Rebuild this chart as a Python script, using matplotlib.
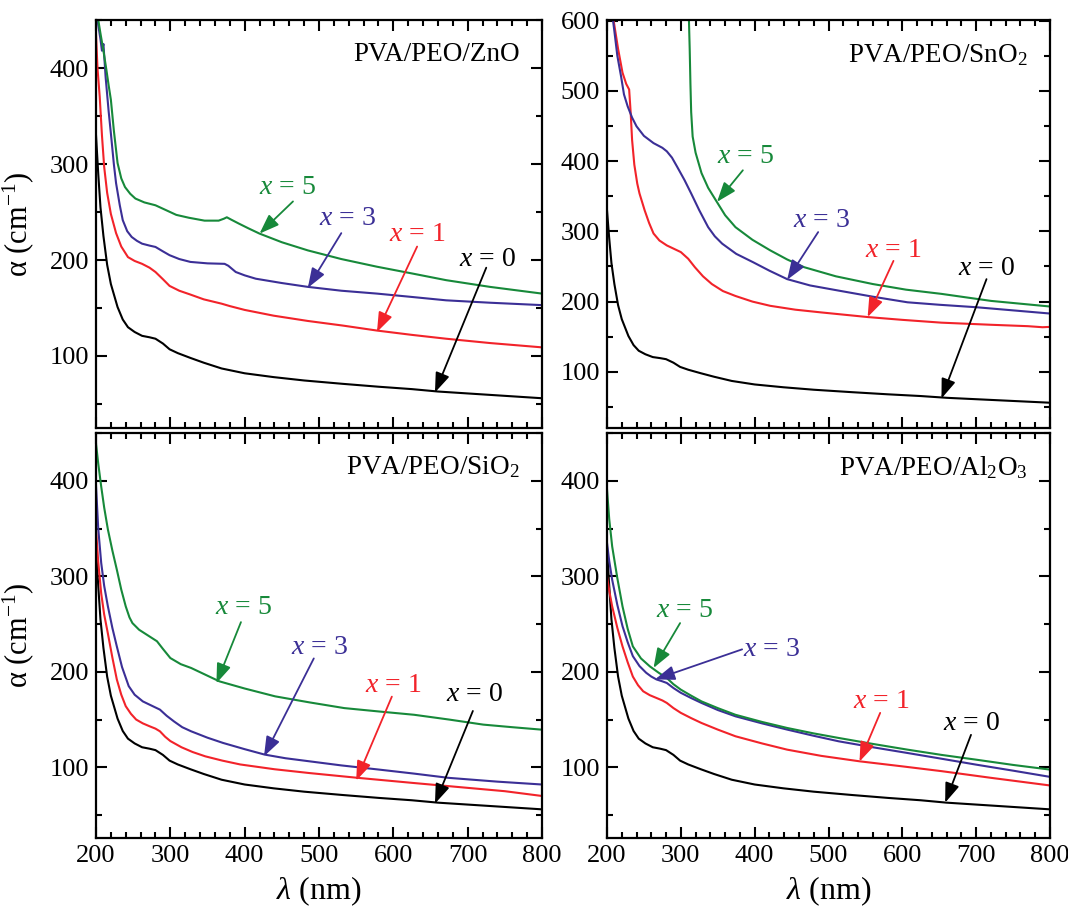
import matplotlib
matplotlib.use('Agg')
import matplotlib.pyplot as plt
from matplotlib.ticker import MultipleLocator

plt.rcParams['font.family'] = ['Liberation Serif', 'DejaVu Serif']
plt.rcParams['mathtext.fontset'] = 'custom'
plt.rcParams['mathtext.rm'] = 'Liberation Serif'
plt.rcParams['mathtext.it'] = 'Liberation Serif:italic'

# absorption coefficient curves (wavelength nm, alpha cm^-1)
# x = 0 (pure PVA/PEO) is the same sample in every panel
wl_x0 = [200, 203, 206, 210, 215, 220, 229, 236, 243, 252, 262, 272, 280, 290, 299,
         310, 327, 345, 369, 400, 439, 480, 532, 580, 625, 660, 700, 750, 800]
a_x0 = [330, 290, 255, 225, 195, 175, 151, 138, 130, 125, 121, 119.5, 118, 113, 107,
        103, 98, 93, 87, 82, 78, 74.5, 71, 68, 65.5, 63, 61, 58.5, 56]

# ZnO
zno_wl_x1 = [200, 202, 205, 208, 211, 215, 220, 227, 234, 243, 252, 262, 272, 280, 290,
             299, 312, 327, 345, 369, 380, 400, 439, 485, 532, 578, 625, 671, 730, 800]
zno_a_x1 = [435, 400, 370, 330, 297, 270, 248, 228, 214, 203, 199, 196, 192, 187.5, 180,
            173, 168, 164, 159, 154.5, 152, 148, 142, 136.5, 131.7, 126.5, 122, 118, 113.5, 109]
zno_wl_x3 = [200, 203, 206, 208, 210, 213, 217, 220, 224, 227, 232, 236, 242, 248, 255,
             262, 272, 280, 290, 299, 312, 327, 350, 373, 378, 388, 400, 415, 450, 485,
             530, 578, 625, 671, 730, 800]
zno_a_x3 = [470, 445, 430, 418, 425, 390, 355, 332, 300, 280, 257, 241.5, 230, 224, 220,
            217, 215, 213.6, 209, 205, 201, 198, 196.5, 196, 194, 187.5, 184, 180.5, 176, 172,
            168, 165, 161.5, 158, 155.5, 153]
zno_wl_x5 = [202, 206, 210, 214, 217, 220, 224, 229, 234, 239, 246, 253, 265, 280, 294,
             308, 325, 346, 365, 372, 376, 382, 392, 405, 420, 450, 485, 530, 578, 625,
             671, 730, 800]
zno_a_x5 = [455, 436, 418, 398, 382, 367, 335, 301, 285, 276, 269, 264, 260, 257, 252,
            247, 244, 241, 241, 243, 244.5, 242, 238, 233, 227.5, 218.5, 210, 201, 193, 186,
            179, 172, 165]

# SnO2
sno_wl_x1 = [207, 209, 215, 221, 226, 230, 232, 234, 237, 241, 244, 251, 257, 263, 271,
             281, 291, 300, 310, 319, 330, 342, 357, 374, 397, 421, 455, 491, 553, 600,
             653, 720, 770, 790, 800]
sno_a_x1 = [610, 600, 560, 526, 510, 502, 470, 430, 395, 368, 354, 330, 312, 297, 287,
            280, 275, 270.5, 261, 249, 236, 225, 215, 208, 200, 194, 188.5, 184.5, 178, 174,
            170, 167, 165, 163.5, 164]
sno_wl_x3 = [207, 210, 214, 219, 223, 228, 234, 240, 250, 263, 275, 281, 288, 295, 305,
             314, 325, 337, 346, 356, 375, 398, 420, 444, 475, 514, 560, 607, 650, 700,
             750, 800]
sno_a_x3 = [610, 585, 550, 521, 495, 478, 462, 449.6, 436, 425.7, 419, 414, 405, 392, 373,
            354, 330, 306, 293, 282.5, 268, 256, 244, 232, 223, 215.6, 207, 199, 195.5, 192,
            187.5, 183]
sno_wl_x5 = [309, 311, 312, 313, 314, 316, 320, 328, 337, 347, 360, 374, 397, 421, 444,
             467, 510, 560, 605, 653, 720, 800]
sno_a_x5 = [640, 600, 560, 510, 470, 435, 412, 383, 362, 345, 323, 306, 288, 273, 260,
            249, 236, 225, 217, 211, 201, 193]

# SiO2
sio_wl_x1 = [200, 203, 207, 211, 216, 222, 228, 234, 240, 247, 254, 263, 272, 280, 286,
             293, 300, 315, 330, 347, 370, 394, 440, 487, 552, 627, 700, 750, 800]
sio_a_x1 = [349, 315, 282, 260, 240, 215, 192, 176, 164, 156, 150, 146, 143, 140.5, 137.7,
            132, 127.5, 121, 116, 111.5, 107, 103, 98, 94, 89, 83.6, 78.5, 75, 70]
sio_wl_x3 = [200, 203, 207, 211, 216, 222, 228, 235, 244, 252, 263, 275, 286, 295, 305,
             316, 328, 350, 371, 400, 427, 455, 487, 530, 581, 627, 674, 740, 800]
sio_a_x3 = [395, 350, 314, 290, 268.5, 246, 226.6, 205, 185, 176, 169, 164.5, 160.4, 154, 148,
            142, 137.7, 131, 125.5, 119, 113.3, 109.5, 106.3, 102, 97.6, 93.5, 89, 85, 82]
sio_wl_x5 = [200, 203, 207, 211, 216, 222, 228, 234, 240, 245, 249, 258, 268, 276, 282,
             290, 300, 314, 328, 347, 366, 400, 441, 487, 534, 580, 628, 675, 721, 760, 800]
sio_a_x5 = [439, 418, 394, 372, 349, 327, 307, 286, 268.5, 257, 251, 244, 239, 235, 232,
            224, 214.4, 208, 204, 197, 190, 182.5, 174.3, 168, 162, 158.5, 155, 150, 144.7, 142, 139.4]

# Al2O3
alo_wl_x1 = [200, 203, 207, 214, 221, 228, 235, 242, 249, 258, 267, 275, 281, 290, 300,
             314, 328, 350, 374, 410, 444, 490, 542, 600, 653, 720, 800]
alo_a_x1 = [300, 285, 268.5, 246, 226.6, 210, 195, 186, 179.6, 175.5, 172.6, 170, 167.4, 162, 157,
            151.5, 146.4, 139.5, 132.5, 125, 118.5, 112, 106.3, 101, 96, 89, 81]
alo_wl_x3 = [200, 203, 207, 214, 221, 228, 235, 244, 253, 260, 267, 275, 281, 290, 300,
             314, 328, 350, 374, 410, 444, 480, 514, 560, 607, 653, 700, 750, 800]
alo_a_x3 = [335, 316, 296.4, 270, 247.8, 231, 216.4, 206, 199, 195, 192, 190, 188.3, 183, 178,
            172.5, 167.4, 160, 153.4, 146, 139.5, 133, 127.2, 121, 115, 109, 102.8, 96.5, 90]
alo_wl_x5 = [200, 203, 207, 214, 221, 228, 235, 246, 258, 270, 281, 290, 300, 314, 328,
             350, 374, 410, 444, 480, 514, 560, 607, 653, 700, 750, 800]
alo_a_x5 = [391, 360, 331.3, 298, 268.5, 245, 226.6, 214, 205.7, 199, 193.5, 187, 181.3, 175, 169,
            162, 155, 147.5, 141.2, 135.5, 130.7, 124.5, 118.5, 113, 108, 102.5, 97.6]

panel_titles = ['PVA/PEO/ZnO', 'PVA/PEO/SnO$_2$', 'PVA/PEO/SiO$_2$', 'PVA/PEO/Al$_2$O$_3$']
series_labels = ['0', '1', '3', '5']
colors = ['black', '#f2232a', '#3b2f96', '#17893a']

panels = [
    [(wl_x0, a_x0), (zno_wl_x1, zno_a_x1), (zno_wl_x3, zno_a_x3), (zno_wl_x5, zno_a_x5)],
    [(wl_x0, a_x0), (sno_wl_x1, sno_a_x1), (sno_wl_x3, sno_a_x3), (sno_wl_x5, sno_a_x5)],
    [(wl_x0, a_x0), (sio_wl_x1, sio_a_x1), (sio_wl_x3, sio_a_x3), (sio_wl_x5, sio_a_x5)],
    [(wl_x0, a_x0), (alo_wl_x1, alo_a_x1), (alo_wl_x3, alo_a_x3), (alo_wl_x5, alo_a_x5)],
]

# label placement: (text x, text y, arrow start x, y, arrow tip x, y) for x=0,1,3,5
arrows = [
    [(727, 201, 725, 192, 656, 62), (632, 227, 632, 214, 578, 125),
     (539, 243, 530, 228, 485, 171), (457, 276, 465, 261, 420, 227.5)],
    [(714, 247, 714, 232, 653, 62), (588, 273, 588, 258, 553, 178),
     (491, 316, 486, 299, 444, 231), (388, 406, 384, 387, 349, 342)],
    [(709, 176, 707, 159, 656, 62), (600, 186, 598, 174, 550, 86),
     (500, 225, 493, 214, 426, 111.5), (398, 267, 395, 252, 362, 188)],
    [(693, 146, 693, 134, 658, 63), (572, 169, 570, 157, 542, 106),
     (423, 223, 383, 223.5, 265, 192), (305, 264, 299, 251, 263, 204)],
]

ylims = [(25, 450), (20, 601), (26, 450), (26, 450)]
rects = [
    [96 / 1068, 1 - 428 / 911, 446 / 1068, 408 / 911],
    [607 / 1068, 1 - 428 / 911, 443 / 1068, 408 / 911],
    [96 / 1068, 1 - 838 / 911, 446 / 1068, 405 / 911],
    [607 / 1068, 1 - 838 / 911, 443 / 1068, 405 / 911],
]

fig = plt.figure(figsize=(10.68, 9.11), dpi=100)

for i in range(4):
    ax = fig.add_axes(rects[i])
    for j, (wl, a) in enumerate(panels[i]):
        ax.plot(wl, a, color=colors[j], lw=1.5)
    for j, (tx, ty, sx, sy, ex, ey) in enumerate(arrows[i]):
        ax.text(tx, ty, '$x$ = ' + series_labels[j], color=colors[j], fontsize=20,
                ha='center', va='center')
        ax.annotate('', xy=(ex, ey), xytext=(sx, sy),
                    arrowprops=dict(arrowstyle='-|>,head_length=0.6,head_width=0.22',
                                    color=colors[j], lw=1.3, mutation_scale=20,
                                    shrinkA=0, shrinkB=0))
    ax.text(0.95, 0.915, panel_titles[i], transform=ax.transAxes, fontsize=19.5,
            ha='right', va='center')

    ax.set_xlim(200, 800)
    ax.set_ylim(*ylims[i])
    ax.xaxis.set_major_locator(MultipleLocator(100))
    ax.xaxis.set_minor_locator(MultipleLocator(20))
    ax.yaxis.set_major_locator(MultipleLocator(100))
    ax.yaxis.set_minor_locator(MultipleLocator(50))
    ax.tick_params(which='both', direction='in', top=True, right=True, width=1.5,
                   labelsize=19)
    ax.tick_params(which='major', length=8, pad=5)
    ax.tick_params(which='minor', length=4.5)
    for s in ax.spines.values():
        s.set_linewidth(1.6)

    if i < 2:
        ax.tick_params(labelbottom=False)
    else:
        ax.set_xlabel(r'$\lambda$ (nm)', fontsize=23)
        ax.xaxis.set_label_coords(0.5, -0.09)
    if i % 2 == 0:
        ax.set_ylabel('α (cm$^{-1}$)', fontsize=22)
        ax.yaxis.set_label_coords(-0.135, 0.5)

fig.savefig('out.png', dpi=100)
